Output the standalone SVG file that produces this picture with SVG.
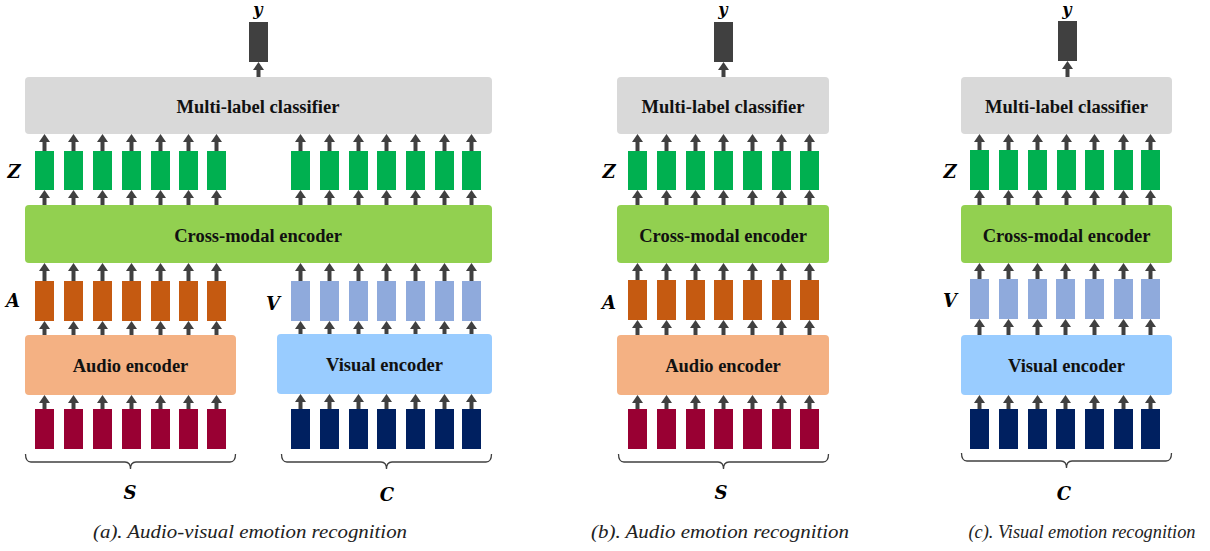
<svg xmlns="http://www.w3.org/2000/svg" width="1210" height="551" viewBox="0 0 1210 551">
<style>
.cls{fill:#d9d9d9}
.cross{fill:#92d050}
.aenc{fill:#f4b183}
.venc{fill:#99ccff}
.z{fill:#00b050}
.a{fill:#c55a11}
.v{fill:#8faadc}
.s{fill:#990033}
.c{fill:#002060}
.yb{fill:#404040}
.t{font-family:"Liberation Serif","Times New Roman",serif;font-weight:bold;font-size:18.5px;fill:#111;text-anchor:middle}
.m{font-family:"DejaVu Serif","Liberation Serif",serif;font-weight:bold;font-style:italic;font-size:18px;fill:#000;text-anchor:middle}
.my{font-family:"DejaVu Serif","Liberation Serif",serif;font-weight:bold;font-style:italic;font-size:16px;fill:#000;text-anchor:middle}
.cap{font-family:"Liberation Serif","Times New Roman",serif;font-style:italic;font-size:19px;fill:#222;text-anchor:middle}
.arr line{stroke:#404040;stroke-width:4;marker-end:url(#ah)}
.br{fill:none;stroke:#404040;stroke-width:1.3}
</style>
<defs>
<marker id="ah" markerUnits="userSpaceOnUse" markerWidth="8" markerHeight="11" viewBox="0 -5.5 8 11" refX="0" refY="0" orient="auto"><path d="M0,-5.5 L8,0 L0,5.5z" fill="#404040"/></marker>
</defs>

<!-- ===== Panel (a) ===== -->
<g id="a-y"><rect class="yb" x="249" y="22" width="19" height="40"/><text class="my" x="258" y="15">y</text></g>
<g id="a-classifier"><rect class="cls" x="25" y="77" width="467" height="57" rx="4"/><text class="t" x="258" y="113">Multi-label classifier</text></g>
<g id="a-Z">
<text class="m" x="14" y="178">Z</text>
<rect class="z" x="35" y="151" width="19" height="39"/><rect class="z" x="64" y="151" width="19" height="39"/><rect class="z" x="93" y="151" width="19" height="39"/><rect class="z" x="122" y="151" width="19" height="39"/><rect class="z" x="151" y="151" width="19" height="39"/><rect class="z" x="179" y="151" width="19" height="39"/><rect class="z" x="207" y="151" width="19" height="39"/>
<rect class="z" x="291" y="151" width="19" height="39"/><rect class="z" x="320" y="151" width="19" height="39"/><rect class="z" x="349" y="151" width="19" height="39"/><rect class="z" x="377" y="151" width="19" height="39"/><rect class="z" x="406" y="151" width="19" height="39"/><rect class="z" x="435" y="151" width="19" height="39"/><rect class="z" x="462" y="151" width="19" height="39"/>
</g>
<g id="a-cross"><rect class="cross" x="25" y="205" width="467" height="58" rx="4"/><text class="t" x="258" y="242">Cross-modal encoder</text></g>
<g id="a-A">
<text class="m" x="13" y="307">A</text>
<rect class="a" x="35" y="281" width="19" height="40"/><rect class="a" x="64" y="281" width="19" height="40"/><rect class="a" x="93" y="281" width="19" height="40"/><rect class="a" x="122" y="281" width="19" height="40"/><rect class="a" x="151" y="281" width="19" height="40"/><rect class="a" x="179" y="281" width="19" height="40"/><rect class="a" x="207" y="281" width="19" height="40"/>
</g>
<g id="a-V">
<text class="m" x="273" y="310">V</text>
<rect class="v" x="291" y="281" width="19" height="40"/><rect class="v" x="320" y="281" width="19" height="40"/><rect class="v" x="349" y="281" width="19" height="40"/><rect class="v" x="377" y="281" width="19" height="40"/><rect class="v" x="406" y="281" width="19" height="40"/><rect class="v" x="435" y="281" width="19" height="40"/><rect class="v" x="462" y="281" width="19" height="40"/>
</g>
<g id="a-audio"><rect class="aenc" x="25" y="335" width="211" height="60" rx="4"/><text class="t" x="130.5" y="372">Audio encoder</text></g>
<g id="a-visual"><rect class="venc" x="277" y="334" width="215" height="60" rx="4"/><text class="t" x="384.5" y="371">Visual encoder</text></g>
<g id="a-S">
<rect class="s" x="35" y="409" width="19" height="40"/><rect class="s" x="64" y="409" width="19" height="40"/><rect class="s" x="93" y="409" width="19" height="40"/><rect class="s" x="122" y="409" width="19" height="40"/><rect class="s" x="151" y="409" width="19" height="40"/><rect class="s" x="179" y="409" width="19" height="40"/><rect class="s" x="207" y="409" width="19" height="40"/>
<path class="br" d="M25.5,454 Q25.5,462 31,462 L125,462 Q130.5,462 130.5,469 Q130.5,462 136,462 L230,462 Q235.5,462 235.5,454"/>
<text class="m" x="130" y="499">S</text>
</g>
<g id="a-C">
<rect class="c" x="291" y="409" width="19" height="40"/><rect class="c" x="320" y="409" width="19" height="40"/><rect class="c" x="349" y="409" width="19" height="40"/><rect class="c" x="377" y="409" width="19" height="40"/><rect class="c" x="406" y="409" width="19" height="40"/><rect class="c" x="435" y="409" width="19" height="40"/><rect class="c" x="462" y="409" width="19" height="40"/>
<path class="br" d="M281.5,454 Q281.5,462 287,462 L381,462 Q386.5,462 386.5,469 Q386.5,462 392,462 L486,462 Q491.5,462 491.5,454"/>
<text class="m" x="387" y="501">C</text>
</g>
<text class="cap" x="250" y="538" textLength="314" lengthAdjust="spacingAndGlyphs">(a). Audio-visual emotion recognition</text>

<!-- ===== Panel (b) ===== -->
<g id="b-y"><rect class="yb" x="714" y="22" width="19" height="40"/><text class="my" x="723" y="15">y</text></g>
<g id="b-classifier"><rect class="cls" x="617" y="77" width="212" height="57" rx="4"/><text class="t" x="723" y="113">Multi-label classifier</text></g>
<g id="b-Z">
<text class="m" x="609" y="178">Z</text>
<rect class="z" x="628" y="151" width="19" height="39"/><rect class="z" x="657" y="151" width="19" height="39"/><rect class="z" x="686" y="151" width="19" height="39"/><rect class="z" x="714" y="151" width="19" height="39"/><rect class="z" x="743" y="151" width="19" height="39"/><rect class="z" x="772" y="151" width="19" height="39"/><rect class="z" x="800" y="151" width="19" height="39"/>
</g>
<g id="b-cross"><rect class="cross" x="617" y="205" width="212" height="58" rx="4"/><text class="t" x="723" y="242">Cross-modal encoder</text></g>
<g id="b-A">
<text class="m" x="609" y="309">A</text>
<rect class="a" x="628" y="280" width="19" height="40"/><rect class="a" x="657" y="280" width="19" height="40"/><rect class="a" x="686" y="280" width="19" height="40"/><rect class="a" x="714" y="280" width="19" height="40"/><rect class="a" x="743" y="280" width="19" height="40"/><rect class="a" x="772" y="280" width="19" height="40"/><rect class="a" x="800" y="280" width="19" height="40"/>
</g>
<g id="b-audio"><rect class="aenc" x="617" y="335" width="212" height="60" rx="4"/><text class="t" x="723" y="372">Audio encoder</text></g>
<g id="b-S">
<rect class="s" x="628" y="409" width="19" height="40"/><rect class="s" x="657" y="409" width="19" height="40"/><rect class="s" x="686" y="409" width="19" height="40"/><rect class="s" x="714" y="409" width="19" height="40"/><rect class="s" x="743" y="409" width="19" height="40"/><rect class="s" x="772" y="409" width="19" height="40"/><rect class="s" x="800" y="409" width="19" height="40"/>
<path class="br" d="M618.5,454 Q618.5,462 624,462 L718,462 Q723.5,462 723.5,469 Q723.5,462 729,462 L823,462 Q828.5,462 828.5,454"/>
<text class="m" x="721" y="499">S</text>
</g>
<text class="cap" x="720" y="538" textLength="258" lengthAdjust="spacingAndGlyphs">(b). Audio emotion recognition</text>

<!-- ===== Panel (c) ===== -->
<g id="c-y"><rect class="yb" x="1058" y="21" width="19" height="40"/><text class="my" x="1067" y="15">y</text></g>
<g id="c-classifier"><rect class="cls" x="961" y="77" width="211" height="57" rx="4"/><text class="t" x="1066.5" y="113">Multi-label classifier</text></g>
<g id="c-Z">
<text class="m" x="950" y="178">Z</text>
<rect class="z" x="970" y="150" width="19" height="40"/><rect class="z" x="999" y="150" width="19" height="40"/><rect class="z" x="1028" y="150" width="19" height="40"/><rect class="z" x="1057" y="150" width="19" height="40"/><rect class="z" x="1085" y="150" width="19" height="40"/><rect class="z" x="1114" y="150" width="19" height="40"/><rect class="z" x="1141" y="150" width="19" height="40"/>
</g>
<g id="c-cross"><rect class="cross" x="961" y="205" width="211" height="58" rx="4"/><text class="t" x="1066.5" y="242">Cross-modal encoder</text></g>
<g id="c-V">
<text class="m" x="950" y="307">V</text>
<rect class="v" x="970" y="279" width="19" height="40"/><rect class="v" x="999" y="279" width="19" height="40"/><rect class="v" x="1028" y="279" width="19" height="40"/><rect class="v" x="1056" y="279" width="19" height="40"/><rect class="v" x="1085" y="279" width="19" height="40"/><rect class="v" x="1114" y="279" width="19" height="40"/><rect class="v" x="1141" y="279" width="19" height="40"/>
</g>
<g id="c-visual"><rect class="venc" x="961" y="335" width="211" height="60" rx="4"/><text class="t" x="1066.5" y="372">Visual encoder</text></g>
<g id="c-C">
<rect class="c" x="970" y="409" width="19" height="40"/><rect class="c" x="999" y="409" width="19" height="40"/><rect class="c" x="1028" y="409" width="19" height="40"/><rect class="c" x="1056" y="409" width="19" height="40"/><rect class="c" x="1085" y="409" width="19" height="40"/><rect class="c" x="1114" y="409" width="19" height="40"/><rect class="c" x="1141" y="409" width="19" height="40"/>
<path class="br" d="M961.5,453 Q961.5,461 967,461 L1061,461 Q1066.5,461 1066.5,468 Q1066.5,461 1072,461 L1166,461 Q1171.5,461 1171.5,453"/>
<text class="m" x="1064" y="500">C</text>
</g>
<text class="cap" x="1082" y="538" textLength="227" lengthAdjust="spacingAndGlyphs">(c). Visual emotion recognition</text>

<!-- ===== Connectors ===== -->
<g id="connectors" class="arr">
<!-- panel a -->
<line x1="258.5" y1="77" x2="258.5" y2="70"/>
<line x1="44.5" y1="151" x2="44.5" y2="142"/><line x1="73.5" y1="151" x2="73.5" y2="142"/><line x1="102.5" y1="151" x2="102.5" y2="142"/><line x1="131.5" y1="151" x2="131.5" y2="142"/><line x1="160.5" y1="151" x2="160.5" y2="142"/><line x1="188.5" y1="151" x2="188.5" y2="142"/><line x1="216.5" y1="151" x2="216.5" y2="142"/>
<line x1="300.5" y1="151" x2="300.5" y2="142"/><line x1="329.5" y1="151" x2="329.5" y2="142"/><line x1="358.5" y1="151" x2="358.5" y2="142"/><line x1="386.5" y1="151" x2="386.5" y2="142"/><line x1="415.5" y1="151" x2="415.5" y2="142"/><line x1="444.5" y1="151" x2="444.5" y2="142"/><line x1="471.5" y1="151" x2="471.5" y2="142"/>
<line x1="44.5" y1="205" x2="44.5" y2="198"/><line x1="73.5" y1="205" x2="73.5" y2="198"/><line x1="102.5" y1="205" x2="102.5" y2="198"/><line x1="131.5" y1="205" x2="131.5" y2="198"/><line x1="160.5" y1="205" x2="160.5" y2="198"/><line x1="188.5" y1="205" x2="188.5" y2="198"/><line x1="216.5" y1="205" x2="216.5" y2="198"/>
<line x1="300.5" y1="205" x2="300.5" y2="198"/><line x1="329.5" y1="205" x2="329.5" y2="198"/><line x1="358.5" y1="205" x2="358.5" y2="198"/><line x1="386.5" y1="205" x2="386.5" y2="198"/><line x1="415.5" y1="205" x2="415.5" y2="198"/><line x1="444.5" y1="205" x2="444.5" y2="198"/><line x1="471.5" y1="205" x2="471.5" y2="198"/>
<line x1="44.5" y1="281" x2="44.5" y2="271"/><line x1="73.5" y1="281" x2="73.5" y2="271"/><line x1="102.5" y1="281" x2="102.5" y2="271"/><line x1="131.5" y1="281" x2="131.5" y2="271"/><line x1="160.5" y1="281" x2="160.5" y2="271"/><line x1="188.5" y1="281" x2="188.5" y2="271"/><line x1="216.5" y1="281" x2="216.5" y2="271"/>
<line x1="300.5" y1="281" x2="300.5" y2="271"/><line x1="329.5" y1="281" x2="329.5" y2="271"/><line x1="358.5" y1="281" x2="358.5" y2="271"/><line x1="386.5" y1="281" x2="386.5" y2="271"/><line x1="415.5" y1="281" x2="415.5" y2="271"/><line x1="444.5" y1="281" x2="444.5" y2="271"/><line x1="471.5" y1="281" x2="471.5" y2="271"/>
<line x1="44.5" y1="335" x2="44.5" y2="329"/><line x1="73.5" y1="335" x2="73.5" y2="329"/><line x1="102.5" y1="335" x2="102.5" y2="329"/><line x1="131.5" y1="335" x2="131.5" y2="329"/><line x1="160.5" y1="335" x2="160.5" y2="329"/><line x1="188.5" y1="335" x2="188.5" y2="329"/><line x1="216.5" y1="335" x2="216.5" y2="329"/>
<line x1="300.5" y1="334" x2="300.5" y2="329"/><line x1="329.5" y1="334" x2="329.5" y2="329"/><line x1="358.5" y1="334" x2="358.5" y2="329"/><line x1="386.5" y1="334" x2="386.5" y2="329"/><line x1="415.5" y1="334" x2="415.5" y2="329"/><line x1="444.5" y1="334" x2="444.5" y2="329"/><line x1="471.5" y1="334" x2="471.5" y2="329"/>
<line x1="44.5" y1="409" x2="44.5" y2="403"/><line x1="73.5" y1="409" x2="73.5" y2="403"/><line x1="102.5" y1="409" x2="102.5" y2="403"/><line x1="131.5" y1="409" x2="131.5" y2="403"/><line x1="160.5" y1="409" x2="160.5" y2="403"/><line x1="188.5" y1="409" x2="188.5" y2="403"/><line x1="216.5" y1="409" x2="216.5" y2="403"/>
<line x1="300.5" y1="409" x2="300.5" y2="402"/><line x1="329.5" y1="409" x2="329.5" y2="402"/><line x1="358.5" y1="409" x2="358.5" y2="402"/><line x1="386.5" y1="409" x2="386.5" y2="402"/><line x1="415.5" y1="409" x2="415.5" y2="402"/><line x1="444.5" y1="409" x2="444.5" y2="402"/><line x1="471.5" y1="409" x2="471.5" y2="402"/>
<!-- panel b -->
<line x1="723.5" y1="77" x2="723.5" y2="70"/>
<line x1="637.5" y1="151" x2="637.5" y2="142"/><line x1="666.5" y1="151" x2="666.5" y2="142"/><line x1="695.5" y1="151" x2="695.5" y2="142"/><line x1="723.5" y1="151" x2="723.5" y2="142"/><line x1="752.5" y1="151" x2="752.5" y2="142"/><line x1="781.5" y1="151" x2="781.5" y2="142"/><line x1="809.5" y1="151" x2="809.5" y2="142"/>
<line x1="637.5" y1="205" x2="637.5" y2="198"/><line x1="666.5" y1="205" x2="666.5" y2="198"/><line x1="695.5" y1="205" x2="695.5" y2="198"/><line x1="723.5" y1="205" x2="723.5" y2="198"/><line x1="752.5" y1="205" x2="752.5" y2="198"/><line x1="781.5" y1="205" x2="781.5" y2="198"/><line x1="809.5" y1="205" x2="809.5" y2="198"/>
<line x1="637.5" y1="280" x2="637.5" y2="271"/><line x1="666.5" y1="280" x2="666.5" y2="271"/><line x1="695.5" y1="280" x2="695.5" y2="271"/><line x1="723.5" y1="280" x2="723.5" y2="271"/><line x1="752.5" y1="280" x2="752.5" y2="271"/><line x1="781.5" y1="280" x2="781.5" y2="271"/><line x1="809.5" y1="280" x2="809.5" y2="271"/>
<line x1="637.5" y1="335" x2="637.5" y2="328"/><line x1="666.5" y1="335" x2="666.5" y2="328"/><line x1="695.5" y1="335" x2="695.5" y2="328"/><line x1="723.5" y1="335" x2="723.5" y2="328"/><line x1="752.5" y1="335" x2="752.5" y2="328"/><line x1="781.5" y1="335" x2="781.5" y2="328"/><line x1="809.5" y1="335" x2="809.5" y2="328"/>
<line x1="637.5" y1="409" x2="637.5" y2="403"/><line x1="666.5" y1="409" x2="666.5" y2="403"/><line x1="695.5" y1="409" x2="695.5" y2="403"/><line x1="723.5" y1="409" x2="723.5" y2="403"/><line x1="752.5" y1="409" x2="752.5" y2="403"/><line x1="781.5" y1="409" x2="781.5" y2="403"/><line x1="809.5" y1="409" x2="809.5" y2="403"/>
<!-- panel c -->
<line x1="1067.5" y1="77" x2="1067.5" y2="69"/>
<line x1="979.5" y1="150" x2="979.5" y2="142"/><line x1="1008.5" y1="150" x2="1008.5" y2="142"/><line x1="1037.5" y1="150" x2="1037.5" y2="142"/><line x1="1066.5" y1="150" x2="1066.5" y2="142"/><line x1="1094.5" y1="150" x2="1094.5" y2="142"/><line x1="1123.5" y1="150" x2="1123.5" y2="142"/><line x1="1150.5" y1="150" x2="1150.5" y2="142"/>
<line x1="979.5" y1="205" x2="979.5" y2="198"/><line x1="1008.5" y1="205" x2="1008.5" y2="198"/><line x1="1037.5" y1="205" x2="1037.5" y2="198"/><line x1="1066.5" y1="205" x2="1066.5" y2="198"/><line x1="1094.5" y1="205" x2="1094.5" y2="198"/><line x1="1123.5" y1="205" x2="1123.5" y2="198"/><line x1="1150.5" y1="205" x2="1150.5" y2="198"/>
<line x1="979.5" y1="279" x2="979.5" y2="271"/><line x1="1008.5" y1="279" x2="1008.5" y2="271"/><line x1="1037.5" y1="279" x2="1037.5" y2="271"/><line x1="1065.5" y1="279" x2="1065.5" y2="271"/><line x1="1094.5" y1="279" x2="1094.5" y2="271"/><line x1="1123.5" y1="279" x2="1123.5" y2="271"/><line x1="1150.5" y1="279" x2="1150.5" y2="271"/>
<line x1="979.5" y1="335" x2="979.5" y2="327"/><line x1="1008.5" y1="335" x2="1008.5" y2="327"/><line x1="1037.5" y1="335" x2="1037.5" y2="327"/><line x1="1065.5" y1="335" x2="1065.5" y2="327"/><line x1="1094.5" y1="335" x2="1094.5" y2="327"/><line x1="1123.5" y1="335" x2="1123.5" y2="327"/><line x1="1150.5" y1="335" x2="1150.5" y2="327"/>
<line x1="979.5" y1="409" x2="979.5" y2="403"/><line x1="1008.5" y1="409" x2="1008.5" y2="403"/><line x1="1037.5" y1="409" x2="1037.5" y2="403"/><line x1="1065.5" y1="409" x2="1065.5" y2="403"/><line x1="1094.5" y1="409" x2="1094.5" y2="403"/><line x1="1123.5" y1="409" x2="1123.5" y2="403"/><line x1="1150.5" y1="409" x2="1150.5" y2="403"/>
</g>
</svg>
